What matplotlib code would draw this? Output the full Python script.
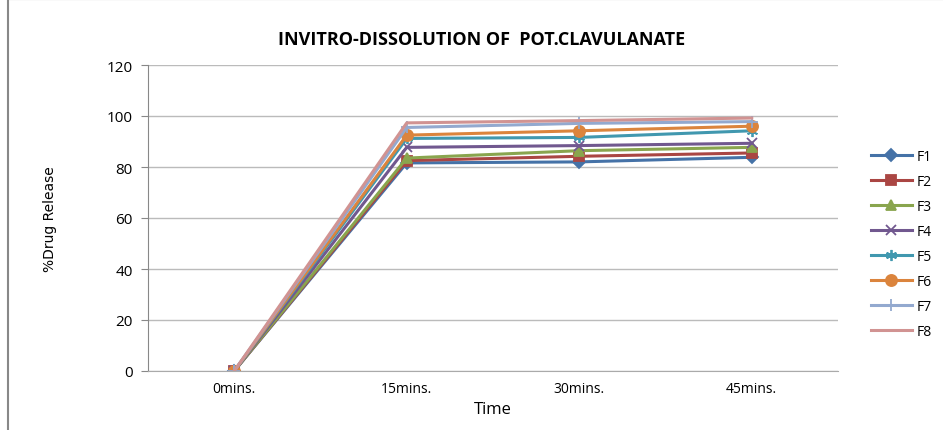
import matplotlib
matplotlib.use('Agg')
import matplotlib.pyplot as plt
from matplotlib.patches import Rectangle

plt.rcParams['font.family'] = ['Open Sans', 'DejaVu Sans']

#time points and formulation names
times = ['0mins.', '15mins.', '30mins.', '45mins.']
f1 = [0, 81.6, 82.0, 83.8]
f2 = [0, 82.5, 84.2, 85.5]
f3 = [0, 83.5, 86.4, 87.7]
f4 = [0, 87.7, 88.4, 89.3]
f5 = [0, 91.2, 91.6, 94.2]
f6 = [0, 92.5, 94.2, 96.0]
f7 = [0, 95.5, 97.1, 97.8]
f8 = [0, 97.3, 98.2, 99.2]
names = ['F1', 'F2', 'F3', 'F4', 'F5', 'F6', 'F7', 'F8']
series = [f1, f2, f3, f4, f5, f6, f7, f8]

colors = ['#4572A7', '#AA4643', '#89A54E', '#71588F', '#4198AF', '#DB843D', '#93A9CF', '#D19392']
markers = ['D', 's', '^', 'x', (6, 2, 0), 'o', '+', None]
sizes = [6, 7, 7, 7, 8, 8, 8, 0]

fig = plt.figure(figsize=(9.43, 4.31), dpi=100)
ax = fig.add_axes([148/943, 1-372/431, 690/943, 306/431])

for vals, name, c, m, s in zip(series, names, colors, markers, sizes):
    ax.plot(range(len(times)), vals, color=c, linewidth=2.2, marker=m, markersize=s,
            markeredgewidth=1.3, label=name)

ax.set_xlim(-0.5, 3.5)
ax.set_ylim(0, 120)
ax.set_yticks(range(0, 121, 20))
ax.set_xticks(range(len(times)))
ax.set_xticklabels(times, fontsize=10)
ax.tick_params(axis='x', length=0, pad=7)
ax.tick_params(axis='y', length=5, color='#888888', labelsize=11, pad=6)
ax.yaxis.grid(True, color='#BBBBBB', linewidth=1)
ax.set_axisbelow(True)
for sp in ['top', 'right']:
    ax.spines[sp].set_visible(False)
ax.spines['left'].set_color('#888888')
ax.spines['bottom'].set_color('#AAAAAA')

ax.set_xlabel('Time', fontsize=12, labelpad=4)
ax.set_ylabel('%Drug Release', fontsize=10, labelpad=36,
              family=['Liberation Sans Narrow', 'DejaVu Sans'])
fig.text(482/943, 1-40/431, 'INVITRO-DISSOLUTION OF  POT.CLAVULANATE',
         ha='center', va='center', fontsize=13, fontweight='bold')

ax.legend(loc='center left', bbox_to_anchor=(858/943, 1-245/431),
          bbox_transform=fig.transFigure, frameon=False, fontsize=10,
          handlelength=3, labelspacing=0.72, handletextpad=0.3)

#outer chart border
fig.patches.append(Rectangle((8/943, -0.02), 1.1, 1.02, transform=fig.transFigure,
                             fill=False, edgecolor='#888888', linewidth=1.5))

fig.savefig('out.png', dpi=100)
